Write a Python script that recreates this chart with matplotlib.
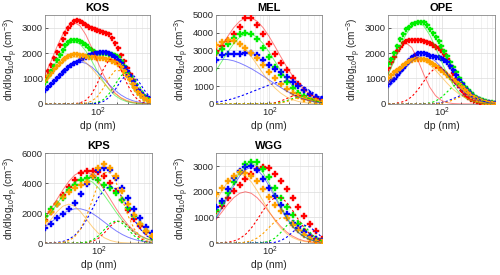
import matplotlib
matplotlib.use("Agg")
import matplotlib.pyplot as plt
from matplotlib.ticker import LogLocator, NullFormatter, FixedLocator, FixedFormatter

plt.rcParams['font.family'] = ['Liberation Sans', 'DejaVu Sans']
plt.rcParams['mathtext.default'] = 'regular'

# particle diameters (nm)
dp_fine = [14.6, 16.2, 18.1, 20.1, 22.3, 24.8, 27.6, 30.7, 34.1, 37.9, 42.1, 46.8, 52.0, 57.9,
           64.3, 71.5, 79.5, 88.4, 98.2, 109.2, 121.4, 135.0, 150.1, 166.8, 185.5, 206.2,
           229.3, 254.9, 283.4, 315.1, 350.3, 389.4, 432.9, 481.2, 535.0, 594.6, 661.1]
dp = dp_fine[::2]

# ---------------- KOS ----------------
kos_red = [1057, 1300, 1545, 1800, 2048, 2300, 2563, 2800, 3000, 3160, 3276, 3280, 3250, 3180, 3104, 3040, 2985, 2950, 2920, 2880, 2840, 2800, 2748, 2600, 2404, 2180, 1942, 1680, 1413, 1160, 925, 730, 555, 410, 290, 215, 160]
kos_green = [880, 1090, 1300, 1510, 1720, 1930, 2130, 2300, 2430, 2500, 2530, 2510, 2470, 2390, 2300, 2210, 2120, 2060, 2010, 2000, 1990, 1985, 1980, 1960, 1930, 1830, 1700, 1480, 1250, 1020, 800, 620, 470, 350, 250, 190, 150]
kos_blue = [560, 680, 800, 915, 1030, 1140, 1250, 1350, 1450, 1530, 1600, 1660, 1720, 1790, 1850, 1910, 1970, 2000, 2020, 2030, 2040, 2030, 2000, 1940, 1850, 1730, 1600, 1450, 1300, 1100, 900, 730, 560, 440, 320, 260, 200]
kos_orange = [950, 1090, 1230, 1370, 1500, 1620, 1730, 1810, 1880, 1920, 1950, 1950, 1940, 1910, 1880, 1860, 1840, 1830, 1820, 1810, 1800, 1780, 1760, 1700, 1640, 1550, 1450, 1310, 1150, 970, 780, 620, 470, 350, 250, 190, 140]
kos_red_m1 = [1152, 1664, 2218, 2717, 3072, 3200, 3072, 2717, 2218, 1664, 1152, 736, 432, 235, 117, 54, 23, 9, 3]
kos_red_m2 = [0, 0, 0, 0, 2, 9, 41, 143, 389, 824, 1359, 1744, 1744, 1359, 824, 389, 143, 41, 9]
kos_green_m1 = [882, 1274, 1698, 2080, 2352, 2450, 2352, 2080, 1698, 1274, 882, 564, 331, 180, 90, 41, 18, 7, 2]
kos_green_m2 = [0, 0, 0, 0, 0, 0, 0, 3, 14, 55, 169, 406, 758, 1103, 1250, 1103, 758, 406, 169]
kos_blue_m1 = [536, 756, 1001, 1246, 1456, 1599, 1650, 1599, 1456, 1246, 1001, 756, 536, 356, 223, 131, 72, 38, 18]
kos_blue_m2 = [0, 0, 0, 0, 0, 0, 0, 1, 6, 27, 96, 259, 550, 906, 1163, 1163, 906, 550, 259]
kos_orange_m1 = [847, 1122, 1397, 1633, 1793, 1850, 1793, 1633, 1397, 1122, 847, 601, 400, 250, 147, 81, 42, 21, 9]
kos_orange_m2 = [0, 0, 0, 0, 0, 0, 7, 31, 107, 292, 618, 1019, 1308, 1308, 1019, 618, 292, 107, 31]

# ---------------- MEL ----------------
mel_red = [2970, 3250, 3560, 3930, 4330, 4850, 4800, 4450, 3900, 3350, 2800, 2300, 1900, 1480, 1100, 760, 500, 330, 230]
mel_green = [2850, 3080, 3380, 3700, 3900, 3990, 3950, 3620, 3150, 2650, 2100, 1650, 1250, 920, 640, 420, 270, 170, 110]
mel_blue = [2450, 2730, 2780, 2780, 2820, 2870, 2860, 2720, 2450, 2200, 1970, 1780, 1520, 1250, 1000, 780, 580, 410, 290]
mel_orange = [3300, 3480, 3590, 3550, 3350, 3130, 2880, 2560, 2200, 1820, 1470, 1120, 840, 600, 420, 290, 200, 140, 100]
mel_red_m1 = [2648, 3235, 3796, 4280, 4637, 4826, 4826, 4637, 4280, 3796, 3235, 2648, 2083, 1575, 1143, 798, 535, 344, 213]
mel_red_m2 = [0, 0, 0, 0, 0, 0, 0, 0, 6, 22, 68, 162, 303, 441, 500, 441, 303, 162, 68]
mel_green_m1 = [1872, 2398, 2919, 3385, 3737, 3926, 3926, 3737, 3385, 2919, 2398, 1872, 1390, 984, 664, 427, 261, 151, 83]
mel_green_m2 = [0, 0, 0, 0, 0, 0, 0, 0, 0, 9, 32, 86, 183, 302, 388, 388, 302, 183, 86]
mel_blue_m1 = [2450, 2500, 2490, 2420, 2300, 2150, 1980, 1780, 1570, 1350, 1130, 920, 720, 540, 380, 260, 170, 100, 60]
mel_blue_m2 = [100, 150, 220, 310, 420, 540, 670, 800, 930, 1060, 1170, 1260, 1300, 1280, 1150, 950, 730, 520, 340]
mel_orange_m1 = [3085, 3406, 3578, 3578, 3406, 3085, 2660, 2185, 1706, 1267, 896, 605, 389, 238, 138, 76, 40, 20, 10]
mel_orange_m2 = [0, 0, 0, 0, 0, 0, 0, 0, 0, 4, 18, 54, 130, 243, 353, 400, 353, 243, 130]

# ---------------- OPE ----------------
ope_red = [1400, 1640, 1860, 2070, 2250, 2380, 2460, 2500, 2510, 2510, 2510, 2500, 2490, 2440, 2380, 2310, 2250, 2200, 2130, 1960, 1750, 1490, 1220, 970, 750, 560, 400, 290, 200, 145, 100, 70, 50, 35, 25, 20, 15]
ope_green = [1550, 1770, 2000, 2280, 2550, 2760, 2930, 3040, 3130, 3190, 3230, 3230, 3200, 3100, 2960, 2800, 2640, 2470, 2290, 2090, 1880, 1660, 1450, 1240, 1030, 840, 670, 530, 420, 330, 250, 190, 140, 105, 80, 60, 40]
ope_blue = [800, 890, 990, 1130, 1280, 1430, 1580, 1720, 1840, 1940, 2000, 2020, 2000, 1950, 1900, 1880, 1860, 1830, 1800, 1730, 1640, 1500, 1330, 1150, 960, 800, 640, 500, 380, 290, 220, 165, 120, 90, 60, 45, 30]
ope_orange = [1000, 1120, 1240, 1340, 1430, 1520, 1600, 1670, 1720, 1750, 1770, 1770, 1760, 1710, 1640, 1560, 1480, 1400, 1320, 1240, 1150, 1060, 960, 870, 770, 660, 540, 430, 330, 260, 190, 140, 95, 70, 45, 30, 15]
ope_red_m1 = [1169, 1742, 2215, 2400, 2215, 1742, 1169, 667, 324, 134, 48, 14, 4, 1, 0, 0, 0, 0, 0]
ope_red_m2 = [4, 16, 49, 129, 287, 544, 880, 1211, 1421, 1421, 1211, 880, 544, 287, 129, 49, 16, 4, 1]
ope_green_m1 = [1152, 1664, 2218, 2717, 3072, 3200, 3072, 2717, 2218, 1664, 1152, 736, 432, 235, 117, 54, 23, 9, 3]
ope_green_m2 = [0, 0, 0, 0, 0, 0, 9, 35, 108, 260, 485, 706, 800, 706, 485, 260, 108, 35, 9]
ope_blue_m1 = [617, 870, 1152, 1435, 1677, 1841, 1900, 1841, 1677, 1435, 1152, 870, 617, 410, 257, 151, 83, 43, 21]
ope_blue_m2 = [0, 0, 0, 0, 0, 0, 0, 4, 15, 47, 114, 212, 309, 350, 309, 212, 114, 47, 15]
ope_orange_m1 = [802, 1061, 1321, 1544, 1696, 1750, 1696, 1544, 1321, 1061, 802, 568, 378, 237, 139, 77, 40, 19, 9]
ope_orange_m2 = [0, 0, 0, 0, 0, 0, 0, 2, 8, 28, 76, 160, 264, 339, 339, 264, 160, 76, 28]

# ---------------- KPS ----------------
kps_red = [1520, 2060, 2620, 3180, 3760, 4220, 4700, 4800, 4810, 4730, 4450, 4000, 3450, 2870, 2230, 1640, 1130, 720, 400]
kps_green = [1790, 2250, 2640, 3000, 3520, 3870, 4200, 4330, 4400, 4200, 3900, 3700, 3350, 2900, 2350, 1780, 1250, 800, 420]
kps_blue = [1000, 1300, 1650, 1950, 2250, 2700, 3300, 3950, 4500, 4900, 5000, 4850, 4350, 3700, 3000, 2300, 1650, 1100, 650]
kps_orange = [1500, 2050, 2600, 3050, 3400, 3650, 3850, 4050, 4500, 5000, 5250, 5000, 4450, 3500, 2600, 1850, 1250, 800, 480]
kps_red_m1 = [1690, 2275, 2914, 3547, 4114, 4541, 4771, 4771, 4541, 4114, 3547, 2914, 2275, 1690, 1195, 806, 518, 317, 183]
kps_red_m2 = [0, 0, 0, 0, 0, 0, 7, 34, 119, 324, 687, 1133, 1454, 1454, 1133, 687, 324, 119, 34]
kps_green_m1 = [1514, 2038, 2610, 3178, 3685, 4068, 4274, 4274, 4068, 3685, 3178, 2610, 2038, 1514, 1071, 722, 464, 284, 164]
kps_green_m2 = [0, 0, 0, 0, 0, 0, 17, 66, 203, 487, 910, 1324, 1500, 1324, 910, 487, 203, 66, 17]
kps_blue_m1 = [1090, 1396, 1700, 1971, 2176, 2286, 2286, 2176, 1971, 1700, 1396, 1090, 810, 573, 386, 248, 152, 88, 49]
kps_blue_m2 = [5, 15, 42, 109, 251, 513, 946, 1562, 2307, 3044, 3595, 3800, 3595, 3044, 2307, 1562, 946, 513, 251]
kps_orange_m1 = [1069, 1578, 2083, 2460, 2600, 2460, 2083, 1578, 1069, 647, 351, 172, 74, 29, 10, 3, 1, 0, 0]
kps_orange_m2 = [0, 3, 14, 53, 163, 427, 950, 1800, 2914, 4008, 4704, 4704, 4008, 2914, 1800, 950, 427, 163, 53]

# ---------------- WGG ----------------
wgg_red = [1230, 1430, 1740, 2020, 2280, 2490, 2680, 2870, 2950, 2920, 2700, 2430, 2100, 1760, 1400, 1050, 750, 480, 170]
wgg_green = [1290, 1560, 1950, 2380, 2760, 3060, 3160, 3150, 2900, 2560, 2160, 1760, 1420, 1080, 760, 490, 290, 160, 90]
wgg_blue = [1390, 1650, 2100, 2520, 2820, 2960, 3000, 2830, 2500, 2160, 1830, 1500, 1120, 800, 580, 430, 290, 160, 90]
wgg_orange = [1930, 2150, 2420, 2620, 2750, 2730, 2600, 2420, 2120, 1800, 1500, 1240, 980, 720, 500, 310, 170, 90, 50]
wgg_red_m1 = [916, 1213, 1510, 1765, 1938, 2000, 1938, 1765, 1510, 1213, 916, 649, 432, 271, 159, 88, 46, 22, 10]
wgg_red_m2 = [4, 12, 32, 79, 172, 335, 584, 911, 1273, 1589, 1775, 1775, 1589, 1273, 911, 584, 335, 172, 79]
wgg_green_m1 = [1007, 1420, 1880, 2341, 2736, 3004, 3100, 3004, 2736, 2341, 1880, 1420, 1007, 670, 419, 247, 136, 71, 34]
wgg_green_m2 = [0, 0, 0, 0, 0, 0, 0, 5, 21, 72, 194, 412, 680, 872, 872, 680, 412, 194, 72]
wgg_blue_m1 = [958, 1351, 1789, 2227, 2603, 2859, 2950, 2859, 2603, 2227, 1789, 1351, 958, 637, 399, 235, 130, 67, 33]
wgg_blue_m2 = [0, 0, 0, 0, 0, 0, 0, 0, 0, 8, 31, 95, 227, 425, 618, 700, 618, 425, 227]
wgg_orange_m1 = [1638, 2039, 2383, 2616, 2700, 2616, 2383, 2039, 1638, 1237, 877, 583, 365, 215, 119, 62, 30, 14, 6]
wgg_orange_m2 = [0, 0, 0, 3, 11, 34, 89, 198, 375, 607, 835, 980, 980, 835, 607, 375, 198, 89, 34]

colors = {'red': '#ff0000', 'green': '#00ee00', 'blue': '#0000ff', 'orange': '#ffa000'}
order = ['red', 'green', 'blue', 'orange']

panels = [
    ('KOS', [0.090, 0.622, 0.210, 0.324], True,
     {'red': (kos_red, kos_red_m1, kos_red_m2), 'green': (kos_green, kos_green_m1, kos_green_m2),
      'blue': (kos_blue, kos_blue_m1, kos_blue_m2), 'orange': (kos_orange, kos_orange_m1, kos_orange_m2)},
     3500, [0, 1000, 2000, 3000]),
    ('MEL', [0.432, 0.622, 0.212, 0.324], False,
     {'red': (mel_red, mel_red_m1, mel_red_m2), 'green': (mel_green, mel_green_m1, mel_green_m2),
      'blue': (mel_blue, mel_blue_m1, mel_blue_m2), 'orange': (mel_orange, mel_orange_m1, mel_orange_m2)},
     5000, [0, 1000, 2000, 3000, 4000, 5000]),
    ('OPE', [0.776, 0.622, 0.214, 0.324], True,
     {'red': (ope_red, ope_red_m1, ope_red_m2), 'green': (ope_green, ope_green_m1, ope_green_m2),
      'blue': (ope_blue, ope_blue_m1, ope_blue_m2), 'orange': (ope_orange, ope_orange_m1, ope_orange_m2)},
     3500, [0, 1000, 2000, 3000]),
    ('KPS', [0.090, 0.116, 0.214, 0.327], False,
     {'red': (kps_red, kps_red_m1, kps_red_m2), 'green': (kps_green, kps_green_m1, kps_green_m2),
      'blue': (kps_blue, kps_blue_m1, kps_blue_m2), 'orange': (kps_orange, kps_orange_m1, kps_orange_m2)},
     6000, [0, 2000, 4000, 6000]),
    ('WGG', [0.432, 0.116, 0.212, 0.327], False,
     {'red': (wgg_red, wgg_red_m1, wgg_red_m2), 'green': (wgg_green, wgg_green_m1, wgg_green_m2),
      'blue': (wgg_blue, wgg_blue_m1, wgg_blue_m2), 'orange': (wgg_orange, wgg_orange_m1, wgg_orange_m2)},
     3500, [0, 1000, 2000, 3000]),
]

fig = plt.figure(figsize=(5, 2.75), dpi=100)
tc = '#262626'
for title, rect, dense, series, ymax, yticks in panels:
    ax = fig.add_axes(rect)
    ax.set_xscale('log')
    xm = dp_fine if dense else dp
    for c in order:
        data, m1, m2 = series[c]
        ax.plot(xm, data, linestyle='none', marker='P', ms=3.6 if dense else 4.0,
                mfc=colors[c], mec=colors[c], mew=0.3, zorder=3)
    for c in order:
        data, m1, m2 = series[c]
        ax.plot(dp, m1, '-', color=colors[c], lw=0.7, alpha=0.5, zorder=4)
        ax.plot(dp, m2, '--', color=colors[c], lw=0.8, dashes=(2.0, 2.0), zorder=4)
    ax.set_xlim(14.6, 661)
    ax.set_ylim(0, ymax)
    ax.xaxis.set_major_locator(FixedLocator([100]))
    ax.xaxis.set_major_formatter(FixedFormatter(['$10^{2}$']))
    ax.xaxis.set_minor_locator(LogLocator(base=10, subs=[2, 3, 4, 5, 6, 7, 8, 9], numticks=20))
    ax.xaxis.set_minor_formatter(NullFormatter())
    ax.set_yticks(yticks)
    ax.grid(True, which='major', color='#dcdcdc', lw=0.5)
    ax.grid(True, which='minor', axis='x', color='#ececec', lw=0.5)
    ax.set_axisbelow(True)
    ax.tick_params(which='both', direction='in', labelsize=6.8, colors=tc, length=2.5, width=0.5, pad=1.5)
    ax.tick_params(which='minor', length=1.5)
    for s in ax.spines.values():
        s.set_color('#888888')
        s.set_linewidth(0.6)
    ax.set_title(title, fontsize=8, fontweight='bold', pad=3, color='black')
    ax.set_xlabel('dp (nm)', fontsize=7.5, color=tc, labelpad=1)
    ax.set_ylabel('dn/dlog$_{10}$d$_p$ (cm$^{-3}$)', fontsize=7.2, color=tc, labelpad=1)

fig.savefig('out.png', dpi=100)
